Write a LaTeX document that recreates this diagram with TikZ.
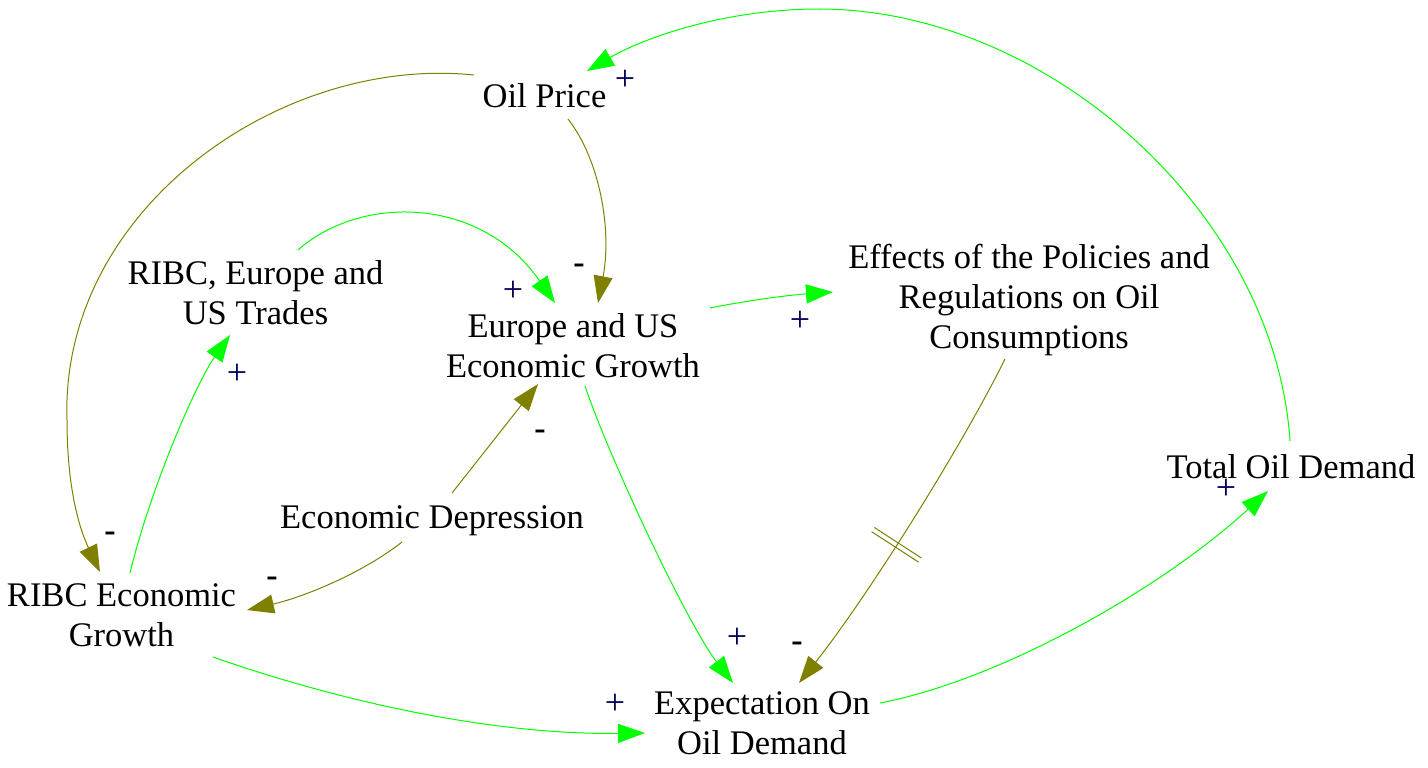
\documentclass[tikz,border=0pt]{standalone}
\usepackage{fontspec}
\setmainfont{Liberation Serif}
\usetikzlibrary{arrows.meta,decorations.markings}
\definecolor{lgreen}{RGB}{0,255,0}
\definecolor{olivec}{RGB}{128,128,0}
\definecolor{signblue}{RGB}{0,0,90}
\begin{document}
\begin{tikzpicture}[x=1pt,y=-1pt,
  var/.style={inner sep=0pt, anchor=base, align=center, font=\fontsize{34.5}{40}\selectfont},
  signnode/.style={inner sep=0pt, anchor=base, font=\fontsize{36}{40}\selectfont},
  plussign/.style={signnode, text=signblue},
  minussign/.style={signnode, text=black, font=\fontsize{34}{40}\selectfont\bfseries},
  glink/.style={draw=lgreen, line width=1pt, -{Triangle[length=27pt,width=19pt,fill=lgreen]}},
  olink/.style={draw=olivec, line width=1pt, -{Triangle[length=27pt,width=19pt,fill=olivec]}}
]
\fill[white] (0,0) rectangle (1428,768);
\useasboundingbox (0,0) rectangle (1428,768);

% variables (base anchor = baseline of the last line)
\node[var] (oil) at (544.5,107) {Oil Price};
\node[var] (trades) at (255.5,324) {RIBC, Europe and\\US Trades};
\node[var] (eur) at (573,377) {Europe and US\\Economic Growth};
\node[var] (eff) at (1029,348) {Effects of the Policies and\\Regulations on Oil\\Consumptions};
\node[var] (total) at (1291,478) {Total Oil Demand};
\node[var] (dep) at (432,528) {Economic Depression};
\node[var] (ribc) at (121.5,646) {RIBC Economic\\Growth};
\node[var] (exp) at (762,754) {Expectation On\\Oil Demand};

% links
\draw[glink] ([shift={(-1,-37)}]total.base) .. controls (1275,215) and (1050,10) .. (820,9)
  .. controls (720,9) and (640,40) .. ([shift={(42.5,-36)}]oil.base);
\draw[olink] ([shift={(-70.5,-32)}]oil.base) .. controls (280,55) and (60,210) .. (67,420)
  .. controls (67,490) and (80,530) .. ([shift={(-21.5,-74)}]ribc.base);
\draw[olink] ([shift={(23.5,12)}]oil.base) .. controls (600,160) and (612,230) .. ([shift={(25,-74)}]eur.base);
\draw[glink] ([shift={(42.5,-74)}]trades.base) .. controls (360,195) and (480,195) .. ([shift={(-18,-74)}]eur.base);
\draw[glink] ([shift={(8.5,-73)}]ribc.base) .. controls (150,490) and (195,385) .. ([shift={(-25.5,11)}]trades.base);
\draw[olink] ([shift={(20,-35)}]dep.base) -- ([shift={(-35,7)}]eur.base);
\draw[olink] ([shift={(-30,14)}]dep.base) .. controls (360,575) and (300,598) .. ([shift={(125.5,-36)}]ribc.base);
\draw[glink] ([shift={(137,-69)}]eur.base) .. controls (750,300) and (790,295) .. ([shift={(-196,-56)}]eff.base);
\draw[glink] ([shift={(12,9)}]eur.base) .. controls (610,460) and (688,625) .. ([shift={(-29,-71)}]exp.base);
\draw[olink, postaction={decorate, decoration={markings,
    mark=at position 0.56 with {\draw[-, draw=olivec, line width=1pt] (-2.5,-28) -- (-2.5,28) (2.5,-28) -- (2.5,28);}}}]
  ([shift={(-24,11)}]eff.base) .. controls (960,450) and (865,600) .. ([shift={(37,-71)}]exp.base);
\draw[glink] ([shift={(91.5,11)}]ribc.base) .. controls (350,705) and (500,735) .. ([shift={(-117,-21)}]exp.base);
\draw[glink] ([shift={(118,-51)}]exp.base) .. controls (1000,680) and (1160,590) .. ([shift={(-23,13)}]total.base);

% polarity signs
\node[plussign] (s1) at (625,91) {+};
\node[minussign] (s2) at (579,273) {-};
\node[plussign] (s3) at (513,301) {+};
\node[minussign] (s4) at (110,541) {-};
\node[plussign] (s5) at (237,384) {+};
\node[minussign] (s6) at (540,439) {-};
\node[minussign] (s7) at (272,586) {-};
\node[plussign] (s8) at (800,331) {+};
\node[plussign] (s9) at (737,648) {+};
\node[minussign] (s10) at (797,651) {-};
\node[plussign] (s11) at (615,714) {+};
\node[plussign] (s12) at (1226,499) {+};
\end{tikzpicture}
\end{document}
